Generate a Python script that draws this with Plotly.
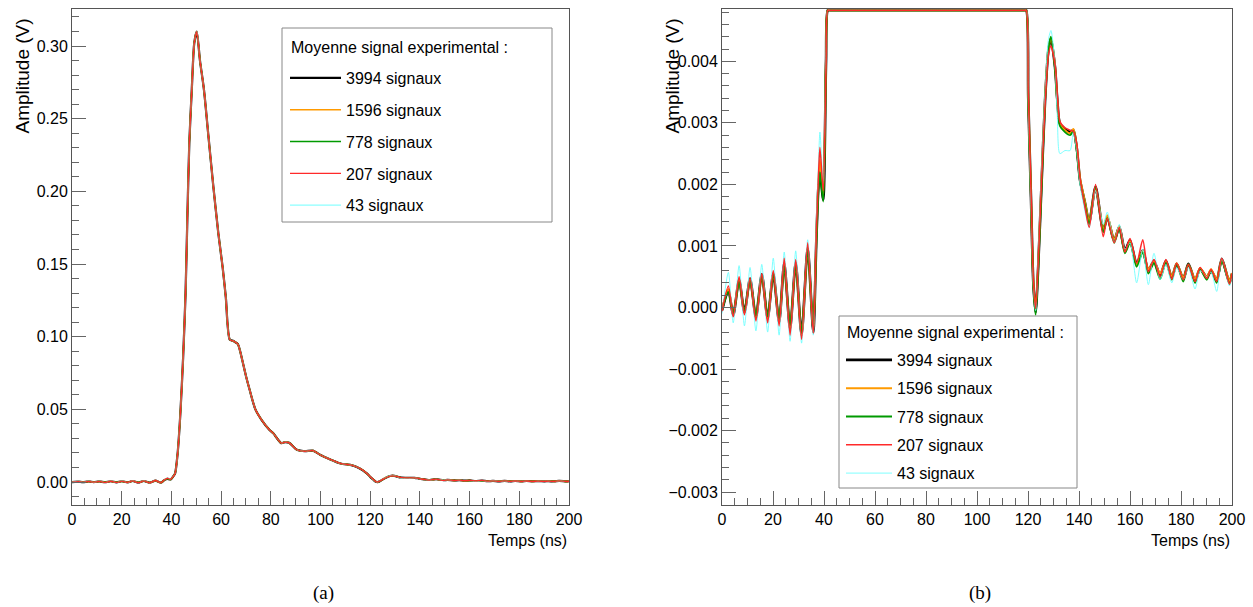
import plotly.graph_objects as go

# ---------------- data ----------------
LABELS = ["3994 signaux", "1596 signaux", "778 signaux", "207 signaux", "43 signaux"]
LEGEND_TITLE = "Moyenne signal experimental :"

# baseline before the pulse (time in ns, amplitude in mV)
T_PRE = [0.0, 2.5, 4.4, 6.7, 8.8, 11.0, 13.3, 15.6, 17.9, 20.1, 22.4, 24.4, 26.7,
         28.9, 31.2, 33.6, 35.8, 37.0, 37.8, 38.4, 39.7, 40.8]
PRE_3994 = [-0.05, 0.28, -0.13, 0.45, -0.08, 0.47, -0.16, 0.54, -0.18, 0.55, -0.24, 0.72,
            -0.35, 0.73, -0.45, 0.97, -0.40, 1.10, 1.95, 2.20, 1.75, 4.00]
PRE_1596 = [-0.03, 0.30, -0.12, 0.45, -0.09, 0.46, -0.16, 0.53, -0.18, 0.56, -0.24, 0.70,
            -0.34, 0.72, -0.46, 0.96, -0.40, 1.15, 2.05, 2.40, 1.80, 4.05]
PRE_778 = [-0.04, 0.25, -0.10, 0.42, -0.06, 0.44, -0.14, 0.52, -0.15, 0.55, -0.20, 0.68,
           -0.30, 0.70, -0.42, 0.95, -0.35, 1.05, 1.90, 2.20, 1.72, 4.10]
PRE_207 = [-0.06, 0.35, -0.15, 0.50, -0.12, 0.48, -0.22, 0.55, -0.25, 0.60, -0.30, 0.80,
           -0.45, 0.78, -0.52, 1.05, -0.42, 1.20, 2.10, 2.60, 1.90, 3.95]
PRE_43 = [-0.10, 0.57, -0.25, 0.68, -0.30, 0.65, -0.38, 0.70, -0.40, 0.80, -0.45, 0.90,
          -0.55, 0.92, -0.58, 1.10, -0.45, 1.40, 2.30, 2.85, 2.00, 4.20]

# main pulse (time in ns, amplitude in V) - identical for all averages
T_PULSE = [41.5, 42.5, 43.6, 44.7, 45.7, 46.4, 47.2, 48.2, 49.2, 50.2, 51.5, 53.1, 54.9,
           56.9, 58.9, 60.6, 61.9, 63.5, 65.0, 66.7, 68.5, 70.0, 71.4, 73.8, 76.2, 79.4,
           81.0, 84.2, 85.8, 87.4, 90.5, 93.7, 96.9, 100.0, 103.3, 108.0, 112.8, 116.0, 118.5]
PULSE_V = [0.006, 0.0196, 0.047, 0.085, 0.130, 0.180, 0.233, 0.270, 0.302, 0.310, 0.290,
           0.270, 0.238, 0.203, 0.171, 0.148, 0.127, 0.098, 0.097, 0.095, 0.084, 0.073,
           0.064, 0.050, 0.043, 0.036, 0.0335, 0.0268, 0.0275, 0.0270, 0.0222, 0.0212,
           0.0216, 0.0186, 0.0160, 0.0128, 0.0115, 0.0092, 0.0062]

# tail after the pulse (time in ns, amplitude in mV)
T_POST = [119.3, 120.1, 121.2, 122.1, 123.0, 124.0, 125.3, 126.7, 128.0, 129.0, 130.6,
          131.5, 132.5, 134.5, 136.5, 137.8, 139.1, 140.4, 142.4, 144.0, 146.5, 149.5,
          151.1, 153.8, 155.8, 158.0, 160.0, 162.6, 165.0, 167.2, 169.4, 171.8, 174.1,
          176.4, 178.3, 180.9, 182.9, 185.5, 187.5, 190.1, 191.8, 194.0, 196.0, 199.0, 200.0]
POST_3994 = [4.90, 3.40, 1.74, 0.39, -0.08, 0.66, 2.00, 3.37, 4.18, 4.37, 3.90, 3.37, 2.99,
             2.90, 2.85, 2.88, 2.60, 2.07, 1.69, 1.39, 1.96, 1.25, 1.47, 1.09, 1.31, 0.93,
             1.09, 0.71, 0.93, 0.60, 0.76, 0.52, 0.76, 0.49, 0.71, 0.47, 0.71, 0.44, 0.63,
             0.49, 0.60, 0.44, 0.79, 0.41, 0.55]
POST_1596 = [4.90, 3.45, 1.80, 0.42, -0.05, 0.70, 2.05, 3.40, 4.20, 4.38, 3.92, 3.35, 2.98,
             2.88, 2.83, 2.90, 2.62, 2.10, 1.70, 1.40, 1.95, 1.27, 1.50, 1.10, 1.32, 0.90,
             1.08, 0.70, 0.92, 0.62, 0.75, 0.55, 0.75, 0.50, 0.72, 0.48, 0.70, 0.46, 0.64,
             0.50, 0.62, 0.46, 0.78, 0.43, 0.56]
POST_778 = [4.90, 3.35, 1.70, 0.35, -0.12, 0.62, 1.95, 3.35, 4.20, 4.40, 3.88, 3.30, 2.95,
            2.85, 2.80, 2.86, 2.55, 2.05, 1.65, 1.35, 1.95, 1.22, 1.45, 1.05, 1.28, 0.88,
            1.05, 0.66, 0.90, 0.55, 0.72, 0.46, 0.73, 0.45, 0.70, 0.42, 0.70, 0.40, 0.62,
            0.45, 0.60, 0.40, 0.76, 0.38, 0.53]
POST_207 = [4.90, 3.50, 1.85, 0.45, -0.02, 0.72, 2.05, 3.30, 4.10, 4.25, 3.95, 3.45, 3.02,
            2.92, 2.88, 2.86, 2.65, 2.10, 1.62, 1.30, 2.00, 1.15, 1.45, 1.05, 1.30, 0.90,
            1.12, 0.72, 1.10, 0.58, 0.78, 0.50, 0.78, 0.46, 0.72, 0.45, 0.70, 0.42, 0.65,
            0.47, 0.62, 0.42, 0.80, 0.38, 0.55]
POST_43 = [4.90, 3.30, 1.60, 0.35, -0.05, 0.80, 2.20, 3.50, 4.35, 4.50, 3.95, 3.10, 2.50,
           2.55, 2.55, 2.85, 2.55, 2.00, 1.55, 1.30, 1.90, 1.35, 1.55, 1.05, 1.35, 0.95,
           1.05, 0.40, 0.95, 0.37, 0.88, 0.45, 0.70, 0.40, 0.65, 0.45, 0.65, 0.30, 0.60,
           0.50, 0.58, 0.26, 0.80, 0.35, 0.50]

PRE = [PRE_3994, PRE_1596, PRE_778, PRE_207, PRE_43]
POST = [POST_3994, POST_1596, POST_778, POST_207, POST_43]

# ---------------- styling ----------------
COLORS = ["#000000", "#FF9A00", "#009A00", "#FF2A2A", "#70FFFF"]
WIDTH_A = [2.2, 1.6, 1.3, 1.3, 1.0]
WIDTH_B = [2.6, 2.0, 1.8, 1.5, 0.9]
DRAW_ORDER = [0, 1, 2, 4, 3]   # red drawn on top, legend order kept by legendrank

YA_RANGE = [-0.0158, 0.3255]
YB_RANGE = [-0.00321, 0.00485]
CLIP_B = 0.00483

FONT = "Liberation Sans, Arial, Helvetica, sans-serif"
W, H = 1253, 607


def px(x):
    return x / W


def py(y):
    return 1 - y / H


fig = go.Figure()

t_all = T_PRE + T_PULSE + T_POST
for i in DRAW_ORDER:
    v = [x / 1000.0 for x in PRE[i]] + PULSE_V + [x / 1000.0 for x in POST[i]]
    fig.add_trace(go.Scatter(
        x=t_all, y=v, mode="lines", name=LABELS[i], legendrank=100 + i,
        line=dict(color=COLORS[i], width=WIDTH_A[i], shape="spline", smoothing=0.7),
        xaxis="x", yaxis="y", legend="legend", legendgroup="a%d" % i))

for i in DRAW_ORDER:
    v = [x / 1000.0 for x in PRE[i]] + PULSE_V + [x / 1000.0 for x in POST[i]]
    vb = [min(val, CLIP_B) for val in v]
    fig.add_trace(go.Scatter(
        x=t_all, y=vb, mode="lines", name=LABELS[i], legendrank=100 + i,
        line=dict(color=COLORS[i], width=WIDTH_B[i], shape="spline", smoothing=0.7),
        xaxis="x2", yaxis="y2", legend="legend2", legendgroup="b%d" % i))

LINE_C = "#555555"
TICK_C = "#666666"
TICKFONT = dict(family=FONT, size=16, color="#000")


def xax(domain, anchor):
    return dict(domain=domain, anchor=anchor, range=[0, 200], dtick=20, tick0=0,
                automargin=False,
                ticks="inside", ticklen=14, tickcolor=TICK_C, tickwidth=1,
                minor=dict(dtick=5, ticks="inside", ticklen=7, tickcolor=TICK_C),
                showline=True, linecolor=LINE_C, linewidth=1, mirror=True,
                showgrid=False, zeroline=False, tickfont=TICKFONT)


def yax(domain, anchor, rng, dt, mdt, fmt):
    return dict(domain=domain, anchor=anchor, range=rng, dtick=dt, tick0=0,
                tickformat=fmt, automargin=False,
                ticks="inside", ticklen=14, tickcolor=TICK_C, tickwidth=1,
                minor=dict(dtick=mdt, ticks="inside", ticklen=7, tickcolor=TICK_C),
                showline=True, linecolor=LINE_C, linewidth=1, mirror=True,
                showgrid=False, zeroline=False, tickfont=TICKFONT)


LEGFONT = dict(family=FONT, size=16, color="#000")
ydom = [py(505), py(9)]
fig.update_layout(
    width=W, height=H, margin=dict(l=0, r=0, t=0, b=0, autoexpand=False),
    paper_bgcolor="white", plot_bgcolor="white",
    xaxis=xax([px(72), px(569)], "y"),
    yaxis=yax(ydom, "x", YA_RANGE, 0.05, 0.01, ".2f"),
    xaxis2=xax([px(722), px(1232)], "y2"),
    yaxis2=yax(ydom, "x2", YB_RANGE, 0.001, 0.0002, ".3f"),
    legend=dict(x=px(285), y=py(61), xanchor="left", yanchor="top",
                bgcolor="rgba(0,0,0,0)", borderwidth=0, font=LEGFONT,
                itemwidth=51, tracegroupgap=8),
    legend2=dict(x=px(841), y=py(343), xanchor="left", yanchor="top",
                 bgcolor="rgba(0,0,0,0)", borderwidth=0, font=LEGFONT,
                 itemwidth=46, tracegroupgap=4.5),
    showlegend=True,
)

# legend frames and headers
for (x0, y0, x1, y1), (tx, ty) in (((282, 28, 552, 222), (289, 47)),
                                    ((839, 316, 1077, 488), (845, 332))):
    fig.add_shape(type="rect", xref="paper", yref="paper",
                  x0=px(x0), x1=px(x1), y0=py(y1), y1=py(y0),
                  line=dict(color="#888888", width=1), fillcolor="white", layer="above")
    fig.add_annotation(text=LEGEND_TITLE, xref="paper", yref="paper",
                       x=px(tx), y=py(ty), xanchor="left", yanchor="middle",
                       showarrow=False, font=LEGFONT)

for xp in (22, 672):
    fig.add_annotation(text="Amplitude (V)", xref="paper", yref="paper",
                       x=px(xp), y=py(17), xanchor="center", yanchor="top",
                       textangle=-90, showarrow=False,
                       font=dict(family=FONT, size=19, color="#000"))
for xp in (569, 1232):
    fig.add_annotation(text="Temps (ns)", xref="paper", yref="paper",
                       x=px(xp), y=py(540), xanchor="right", yanchor="middle",
                       showarrow=False, font=dict(family=FONT, size=16, color="#000"))
for xp, cap in ((323, "(a)"), (980, "(b)")):
    fig.add_annotation(text=cap, xref="paper", yref="paper",
                       x=px(xp), y=py(593), xanchor="center", yanchor="middle",
                       showarrow=False,
                       font=dict(family="Liberation Serif, DejaVu Serif, serif", size=19, color="#000"))

fig.write_html("out.html", config={"displayModeBar": False},
               post_script="document.body.style.margin='0px';")
